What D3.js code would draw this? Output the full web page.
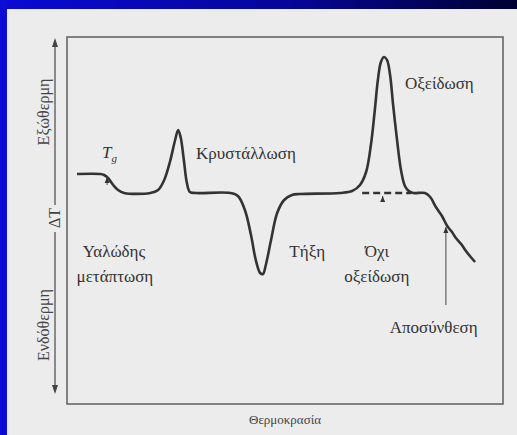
<!DOCTYPE html>
<html>
<head>
<meta charset="utf-8">
<script src="https://cdn.jsdelivr.net/npm/d3@7"></script>
<style>
  html, body { margin: 0; padding: 0; background: #ececec; }
  svg { display: block; }
</style>
</head>
<body>
<svg id="chart" width="517" height="435"></svg>
<script>
// DSC thermogram (schematic): temperature in arbitrary units, dT in arbitrary units
var temp = [2.3, 7.6, 8.5, 9.4, 10.6, 11.7, 13.1, 19.1, 20.9, 22.2, 23.6, 24.8, 25.5, 26.1, 26.8,
            27.5, 28.2, 29.6, 37.4, 39.2, 40.8, 42.2, 43.3, 44.3, 44.95, 45.6, 46.8, 48.2, 49.8,
            51.6, 53.4, 62.6, 65.4, 67.2, 68.6, 69.7, 70.6, 71.3, 72.0, 72.7, 73.4, 74.1, 74.8,
            75.7, 76.6, 77.5, 78.4, 79.4, 82.1, 83.3, 84.6, 86.0, 87.2, 88.3, 89.2, 90.4, 91.5,
            92.6, 93.6];
var dT = [1.9, 1.9, 1.8, 1.5, 0.8, 0.3, 0.0, 0.0, 0.3, 1.2, 3.1, 5.3, 6.3, 5.5, 3.3,
          1.0, 0.1, 0.0, 0.0, -0.3, -1.7, -4.2, -6.7, -8.0, -8.1, -7.2, -4.7, -2.0, -0.7,
          -0.2, -0.1, 0.0, 0.2, 0.8, 2.1, 4.8, 8.3, 11.3, 13.1, 13.6, 13.3, 11.8, 8.8,
          5.3, 2.3, 0.7, 0.2, 0.0, 0.0, -0.4, -1.4, -2.3, -3.3, -3.9, -4.5, -5.1, -5.8,
          -6.4, -6.9];

// extrapolated baseline under the oxidation peak (dashed)
var dashTemp = [67.7, 78.9];
var dashVal = [0, 0];

// annotation arrows: [temperature, tip dT, tail dT]
var arrows = [[9.2, 1.6, 0.8], [72.4, -0.3, -0.9], [86.9, -3.4, -11.2]];

var labels = [
  { t: 'Κρυστάλλωση', x: 29.6, y: 3.4 },
  { t: 'Οξείδωση', x: 77.5, y: 10.4 },
  { t: 'Υαλώδης', x: 3.6, y: -6.4 },
  { t: 'μετάπτωση', x: 2.2, y: -8.9 },
  { t: 'Τήξη', x: 51.0, y: -6.4 },
  { t: 'Όχι', x: 68.3, y: -6.4 },
  { t: 'οξείδωση', x: 63.6, y: -8.9 },
  { t: 'Αποσύνθεση', x: 74.0, y: -14.0 }
];

var svg = d3.select('#chart');
var W = 517, H = 435;
var box = { left: 67, top: 37, right: 503, bottom: 404 };

var x = d3.scaleLinear().domain([0, 100]).range([box.left, box.right]);
var y = d3.scaleLinear().domain([-21.1, 15.6]).range([box.bottom, box.top]);

// slide template border
var defs = svg.append('defs');
var grad = defs.append('linearGradient').attr('id', 'topbar');
grad.append('stop').attr('offset', '0%').attr('stop-color', '#0a0ad4');
grad.append('stop').attr('offset', '55%').attr('stop-color', '#06069a');
grad.append('stop').attr('offset', '100%').attr('stop-color', '#000032');

svg.append('rect').attr('width', W).attr('height', H).attr('fill', '#ececec');
svg.append('rect').attr('width', W).attr('height', 9).attr('fill', 'url(#topbar)');
svg.append('rect').attr('width', 7).attr('height', H).attr('fill', '#0c0cd2');

// frame
svg.append('rect')
    .attr('x', box.left).attr('y', box.top)
    .attr('width', box.right - box.left).attr('height', box.bottom - box.top)
    .attr('fill', 'none').attr('stroke', '#666').attr('stroke-width', 1.6);

// dT axis with double arrow
var axX = 55;
var axis = svg.append('g').attr('stroke', '#555').attr('stroke-width', 1.3);
axis.append('line').attr('x1', axX).attr('x2', axX).attr('y1', 44).attr('y2', 205);
axis.append('line').attr('x1', axX).attr('x2', axX).attr('y1', 232).attr('y2', 388);
svg.append('path').attr('d', `M${axX},38 l-3,9 h6 z`).attr('fill', '#444');
svg.append('path').attr('d', `M${axX},394 l-3,-9 h6 z`).attr('fill', '#444');

var serif = '"Liberation Serif", "DejaVu Serif", serif';

function vtext(txt, cx, cy, size) {
    svg.append('text')
        .attr('transform', `translate(${cx},${cy}) rotate(-90)`)
        .attr('text-anchor', 'middle')
        .attr('dominant-baseline', 'middle')
        .attr('font-family', serif)
        .attr('font-size', size)
        .attr('fill', '#444')
        .text(txt);
}
vtext('Εξώθερμη', 45, 112, 16);
vtext('Ενδόθερμη', 45, 325, 16);
vtext('ΔT', 56, 218, 16);

// curve
var line = d3.line()
    .x(d => x(d[0]))
    .y(d => y(d[1]))
    .curve(d3.curveCatmullRom.alpha(0.5));

svg.append('path')
    .datum(d3.zip(temp, dT))
    .attr('d', line)
    .attr('fill', 'none')
    .attr('stroke', '#333')
    .attr('stroke-width', 2.6)
    .attr('stroke-linejoin', 'round');

svg.append('path')
    .datum(d3.zip(dashTemp, dashVal))
    .attr('d', d3.line().x(d => x(d[0])).y(d => y(d[1])))
    .attr('fill', 'none')
    .attr('stroke', '#333')
    .attr('stroke-width', 2.4)
    .attr('stroke-dasharray', '7,4');

// small pointer arrows
arrows.forEach(a => {
    var px = x(a[0]), ty = y(a[1]), by = y(a[2]);
    svg.append('line').attr('x1', px).attr('x2', px).attr('y1', ty).attr('y2', by)
        .attr('stroke', '#555').attr('stroke-width', 1.1);
    svg.append('path').attr('d', `M${px},${ty} l-2.5,6 h5 z`).attr('fill', '#333');
});

// T_g
var tg = svg.append('text')
    .attr('x', 102).attr('y', 158)
    .attr('font-family', serif).attr('font-size', 17)
    .attr('font-style', 'italic').attr('fill', '#333');
tg.append('tspan').text('T');
tg.append('tspan').attr('font-size', 11).attr('dy', 4).text('g');

// annotation labels
svg.append('g').selectAll('text').data(labels).join('text')
    .attr('x', d => x(d.x))
    .attr('y', d => y(d.y))
    .attr('font-family', serif)
    .attr('font-size', 17)
    .attr('fill', '#333')
    .text(d => d.t);

// x axis title
svg.append('text')
    .attr('x', 285).attr('y', 424)
    .attr('text-anchor', 'middle')
    .attr('font-family', serif)
    .attr('font-size', 13)
    .attr('fill', '#444')
    .text('Θερμοκρασία');
</script>
</body>
</html>
